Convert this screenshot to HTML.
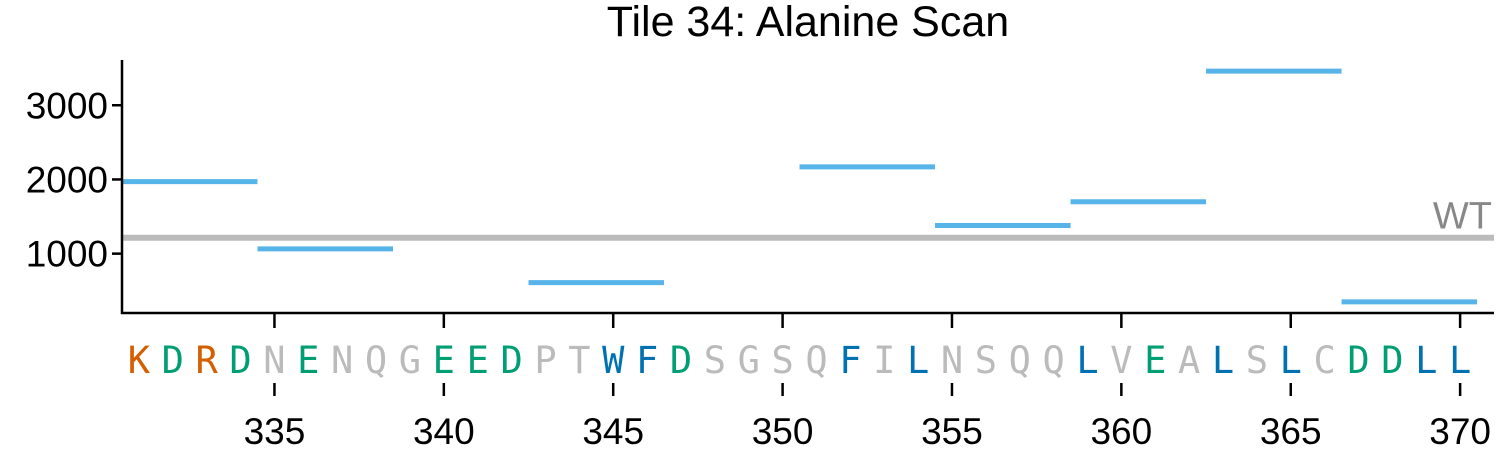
<!DOCTYPE html>
<html><head><meta charset="utf-8"><style>
body{margin:0;background:#fff;}
svg{display:block;font-family:"Liberation Sans",Arial,sans-serif;}
</style></head><body>
<svg id="chart" width="1500" height="450" viewBox="0 0 1500 450" xmlns="http://www.w3.org/2000/svg">
<text x="808" y="36" font-size="43" text-anchor="middle">Tile 34: Alanine Scan</text>
<g id="plot"></g>
</svg>
<script>
const segStarts = [331, 335, 343, 351, 355, 359, 363, 367];
const segEnds = [334, 338, 346, 354, 358, 362, 366, 370];
const segValues = [1970, 1065, 610, 2170, 1380, 1700, 3460, 350];
const wtValue = 1215;
const yTicks = [1000, 2000, 3000];
const xTicks = [335, 340, 345, 350, 355, 360, 365, 370];
const residues = "KDRDNENQGEEDPTWFDSGSQFILNSQQLVEALSLCDDLL".split("");
const firstResidue = 331;

const L=122, R=1494, T=60, B=313;
const xMin=330.5, xMax=371.0, yMin=200, yMax=3610;
function xs(v){return L+(v-xMin)/(xMax-xMin)*(R-L);}
function ys(v){return B-(v-yMin)/(yMax-yMin)*(B-T);}
const NS="http://www.w3.org/2000/svg";
const g=document.getElementById('plot');
function mk(tag,attrs,txt){const e=document.createElementNS(NS,tag);for(const k in attrs)e.setAttribute(k,attrs[k]);if(txt!==undefined)e.textContent=txt;g.appendChild(e);return e;}

let e=mk('line',{x1:L,x2:R,y1:ys(wtValue),y2:ys(wtValue),stroke:'#bbbbbb','stroke-width':6});


e=mk('text',{x:R-2,y:ys(wtValue)-9,'font-size':38,fill:'#888','text-anchor':'end'},'WT');



segValues.forEach((v,i)=>{
  const s=mk('line',{x1:xs(segStarts[i]-0.5),x2:xs(segEnds[i]+0.5),y1:ys(v),y2:ys(v),stroke:'#56b4e9','stroke-width':5});
  
  
});

e=mk('path',{d:`M${L},${T} V${B} H${R}`,fill:'none',stroke:'#000','stroke-width':2.5});



yTicks.forEach(t=>{
  const l=mk('line',{x1:L-10,x2:L,y1:ys(t),y2:ys(t),stroke:'#000','stroke-width':2.5});
  
  
  const tx=mk('text',{x:L-14,y:ys(t)+13,'font-size':37,'text-anchor':'end'},String(t));
  
  
});
xTicks.forEach(t=>{
  const l=mk('line',{x1:xs(t),x2:xs(t),y1:B,y2:B+15,stroke:'#000','stroke-width':2.5});
  
  
  const l2=mk('line',{x1:xs(t),x2:xs(t),y1:383,y2:396,stroke:'#000','stroke-width':2.5});
  
  
  const tx=mk('text',{x:xs(t),y:444,'font-size':37,'text-anchor':'middle'},String(t));
  
  
});
function col(c){if('KR'.includes(c))return '#d55e00';if('DE'.includes(c))return '#009e73';if('WFLMY'.includes(c))return '#0072b2';return '#bbbbbb';}
residues.forEach((c,i)=>{
  const tx=mk('text',{x:xs(firstResidue+i),y:373,'font-size':37,'text-anchor':'middle',fill:col(c),'font-family':'"DejaVu Sans Mono","Liberation Mono",monospace'},c);
  
  
});
</script>
</body></html>
